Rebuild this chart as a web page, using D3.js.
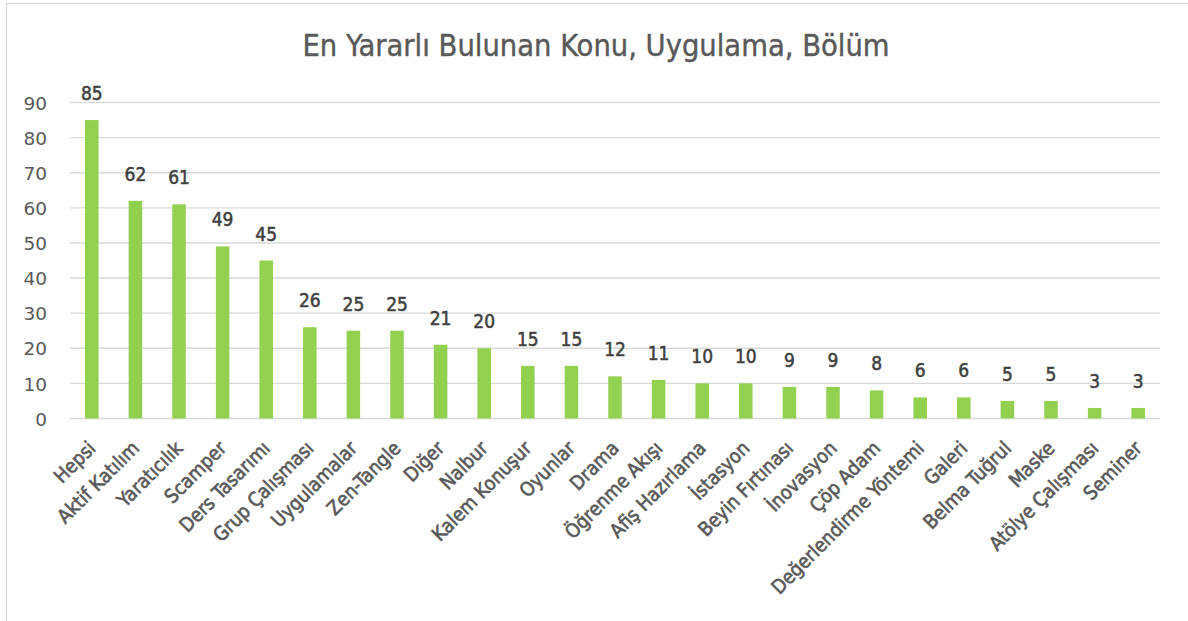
<!DOCTYPE html>
<html>
<head>
<meta charset="utf-8">
<script src="https://cdn.jsdelivr.net/npm/d3@7"></script>
<style>
  body { margin: 0; background: #fff; }
  svg text { font-family: "DejaVu Sans Condensed", "DejaVu Sans", sans-serif; }
</style>
</head>
<body>
<div id="chart"></div>
<script>
// veriler
const categories = ["Hepsi", "Aktif Katılım", "Yaratıcılık", "Scamper", "Ders Tasarımı",
  "Grup Çalışması", "Uygulamalar", "Zen-Tangle", "Diğer", "Nalbur", "Kalem Konuşur",
  "Oyunlar", "Drama", "Öğrenme Akışı", "Afiş Hazırlama", "İstasyon", "Beyin Fırtınası",
  "İnovasyon", "Çöp Adam", "Değerlendirme Yöntemi", "Galeri", "Belma Tuğrul", "Maske",
  "Atölye Çalışması", "Seminer"];
const values = [85, 62, 61, 49, 45, 26, 25, 25, 21, 20, 15, 15, 12, 11, 10, 10, 9, 9, 8, 6, 6, 5, 5, 3, 3];
const yTicks = [0, 10, 20, 30, 40, 50, 60, 70, 80, 90];
const title = "En Yararlı Bulunan Konu, Uygulama, Bölüm";

const W = 1188, H = 621;
const margin = { top: 102, right: 28, bottom: 202, left: 70 };

const svg = d3.select("#chart").append("svg")
  .attr("width", W)
  .attr("height", H);

// dış çerçeve
svg.append("rect")
  .attr("x", 6.5).attr("y", 3.5)
  .attr("width", W + 10).attr("height", H + 10)
  .attr("fill", "#fff")
  .attr("stroke", "#d9d9d9")
  .attr("stroke-width", 1.3);

const x = d3.scaleBand()
  .domain(categories)
  .range([margin.left, W - margin.right])
  .paddingInner(0.69)
  .paddingOuter(0.345);

const y = d3.scaleLinear()
  .domain([0, 90])
  .range([H - margin.bottom - 0.5, margin.top + 0.5]);

// başlık
svg.append("text")
  .attr("x", 596)
  .attr("y", 56)
  .attr("text-anchor", "middle")
  .attr("fill", "#595959")
  .attr("stroke", "#595959")
  .attr("stroke-width", 0.4)
  .style("font-size", "30.5px")
  .text(title);

// yatay kılavuz çizgileri
svg.append("g")
  .selectAll("line")
  .data(yTicks)
  .enter().append("line")
  .attr("x1", margin.left)
  .attr("x2", W - margin.right)
  .attr("y1", d => y(d))
  .attr("y2", d => y(d))
  .attr("stroke", "#d9d9d9")
  .attr("stroke-width", 1.4);

// y ekseni
const yAxis = svg.append("g")
  .attr("transform", `translate(${margin.left - 23},0)`)
  .call(d3.axisLeft(y).tickValues(yTicks).tickSize(0).tickPadding(0));
yAxis.select(".domain").remove();
yAxis.selectAll("text")
  .attr("fill", "#595959")
  .attr("dy", "0.36em")
  .style("font-family", "'DejaVu Sans', sans-serif")
  .style("font-size", "18.5px");

// çubuklar
svg.append("g")
  .selectAll("rect")
  .data(values)
  .enter().append("rect")
  .attr("x", (d, i) => x(categories[i]))
  .attr("y", d => y(d))
  .attr("width", x.bandwidth())
  .attr("height", d => y(0) - y(d))
  .attr("fill", "#92d050");

// değer etiketleri
svg.append("g")
  .selectAll("text")
  .data(values)
  .enter().append("text")
  .attr("x", (d, i) => x(categories[i]) + x.bandwidth() / 2)
  .attr("y", d => y(d) - 20)
  .attr("text-anchor", "middle")
  .attr("fill", "#404040")
  .attr("stroke", "#404040")
  .attr("stroke-width", 0.5)
  .style("font-size", "19px")
  .text(d => d);

// x ekseni etiketleri
const xAxis = svg.append("g")
  .attr("transform", `translate(0,${y(0)})`)
  .call(d3.axisBottom(x).tickSize(0).tickPadding(0));
xAxis.select(".domain").remove();
xAxis.selectAll("text")
  .attr("fill", "#595959")
  .attr("stroke", "#595959")
  .attr("stroke-width", 0.6)
  .attr("text-anchor", "end")
  .attr("dy", null)
  .attr("y", 0)
  .attr("transform", "translate(5,31) rotate(-45)")
  .style("font-size", "19.5px");
</script>
</body>
</html>
